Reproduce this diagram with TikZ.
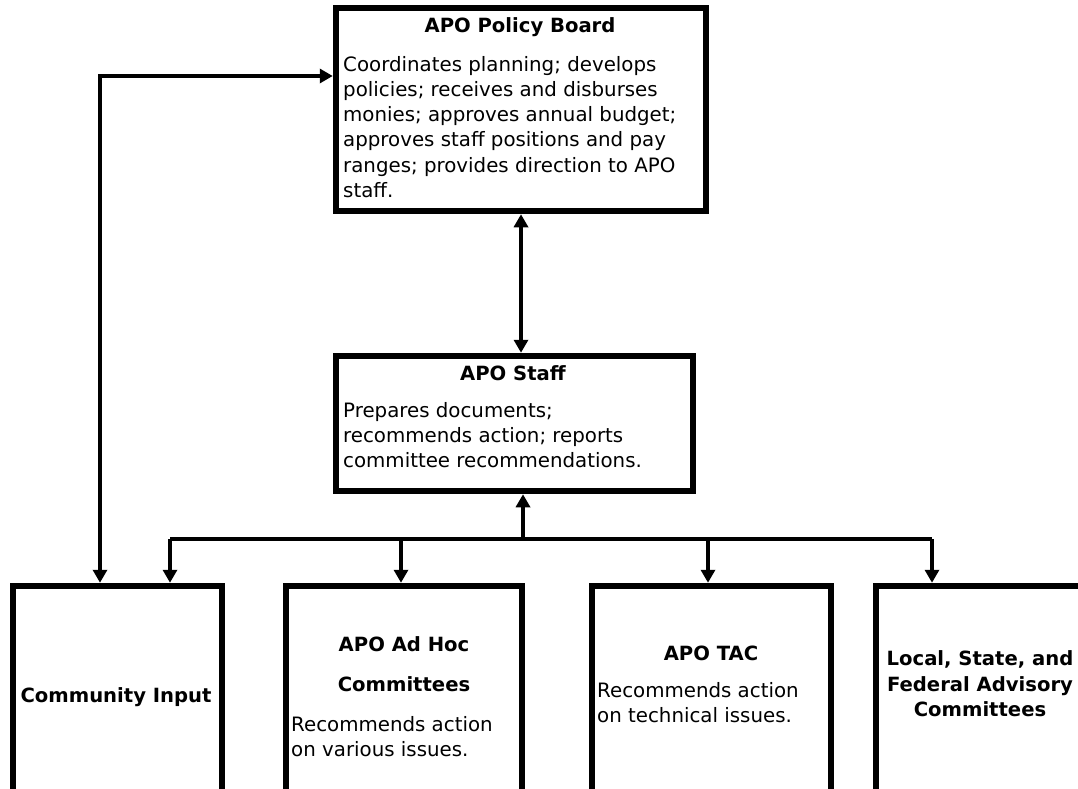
\documentclass[tikz,border=0pt]{standalone}
\usepackage{fontspec}
\setmainfont{DejaVu Sans}
\usetikzlibrary{arrows.meta,calc}
\begin{document}
\begin{tikzpicture}[x=1pt,y=-1pt,
  box/.style={draw=black,line width=6.5pt,fill=white,inner sep=0pt,minimum width=#1},
  conn/.style={line width=4pt,{Triangle[length=13pt,width=14pt]}-{Triangle[length=13pt,width=14pt]}},
  uni/.style={line width=4pt,-{Triangle[length=13pt,width=14pt]}},
  bus/.style={line width=4pt},
  ttl/.style={font=\fontsize{19.6}{25}\selectfont\bfseries,inner sep=0pt},
  body/.style={font=\fontsize{19.8}{25.2}\selectfont,inner sep=0pt,align=left,anchor=north west}]
\useasboundingbox (0,0) rectangle (1078,789);
\clip (0,0) rectangle (1078,789);
% boxes
\node[box=370pt,minimum height=203pt] (board) at (521,109.5) {};
\node[box=357pt,minimum height=135pt] (staff) at (514.5,423.5) {};
\node[box=209pt,minimum height=220pt] (comm) at (117.5,696) {};
\node[box=236pt,minimum height=220pt] (adhoc) at (404,696) {};
\node[box=239pt,minimum height=220pt] (tac) at (711.5,696) {};
\node[box=206pt,minimum height=220pt] (local) at (979,696) {};
% texts
\node[ttl] (boardT) at (520,27) {APO Policy Board};
\node[body] (boardB) at (343,56) {Coordinates planning; develops\\policies; receives and disburses\\monies; approves annual budget;\\approves staff positions and pay\\ranges; provides direction to APO\\staff.};
\node[ttl] (staffT) at (513,373) {APO Staff};
\node[body] (staffB) at (343,402) {Prepares documents;\\recommends action; reports\\committee recommendations.};
\node[ttl] (commT) at (116,697) {Community Input};
\node[ttl] (adhocT1) at (404,644) {APO Ad Hoc};
\node[ttl] (adhocT2) at (404,684) {Committees};
\node[body] (adhocB) at (291,716) {Recommends action\\on various issues.};
\node[ttl] (tacT) at (711,653) {APO TAC};
\node[body] (tacB) at (597,682) {Recommends action\\on technical issues.};
\node[ttl,align=center,font=\fontsize{19.6}{25.5}\selectfont\bfseries] (localT) at (980,684) {Local, State, and\\Federal Advisory\\Committees};
% connectors
\coordinate (cl) at (100,76);
\coordinate (bl) at (170,539);
\coordinate (br) at (932,539);
\coordinate (bm) at (523,539);
\draw[conn] (comm.north -| cl) |- (cl -| board.west);
\draw[conn] (board.south -| 521,0) -- (staff.north -| 521,0);
\draw[bus] (bl) -- (br);
\draw[uni] (bm) -- (staff.south -| bm);
\draw[uni] (bl) -- (comm.north -| bl);
\draw[uni] (401,539) -- (adhoc.north -| 401,0);
\draw[uni] (708,539) -- (tac.north -| 708,0);
\draw[uni] (br) -- (local.north -| br);
\end{tikzpicture}
\end{document}
